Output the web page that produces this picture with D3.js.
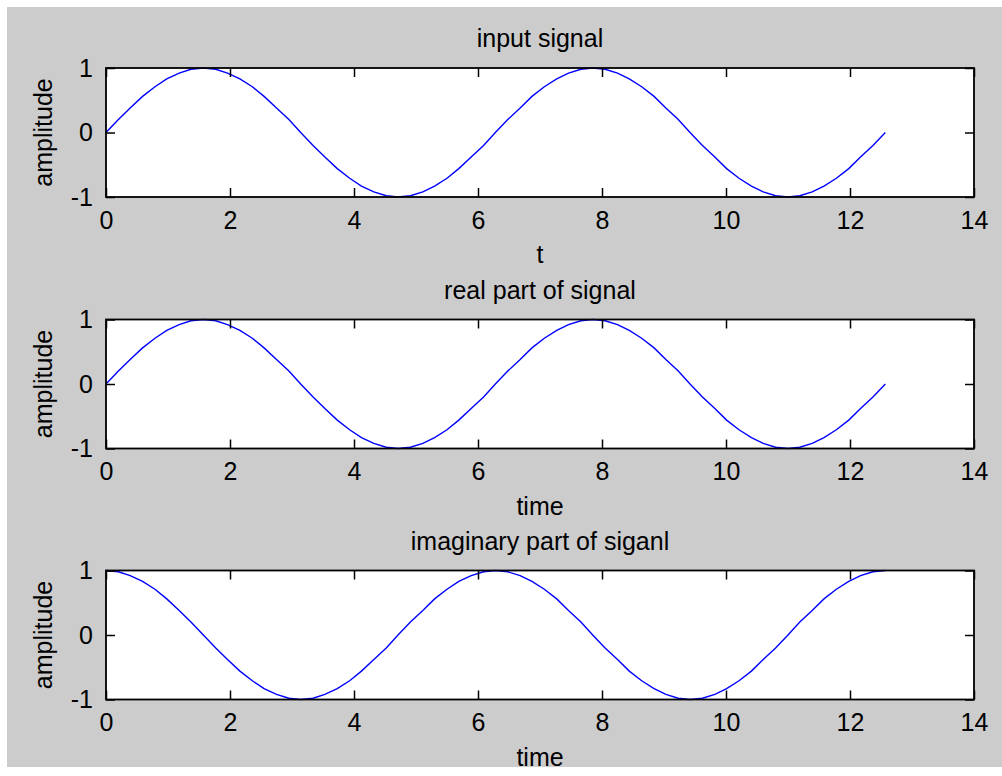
<!DOCTYPE html>
<html>
<head>
<meta charset="utf-8">
<script src="https://cdn.jsdelivr.net/npm/d3@7"></script>
<style>
  html, body { margin: 0; padding: 0; background: #fff; }
  svg { display: block; }
  text { font-family: "Liberation Sans", Arial, sans-serif; fill: #000; }
</style>
</head>
<body>
<svg id="fig" width="1002" height="776"></svg>
<script>
// sample times (0 .. 4*pi)
var tValues = [0, 0.2, 0.39, 0.59, 0.79, 0.98, 1.18, 1.37, 1.57, 1.77, 1.96, 2.16, 2.36, 2.55, 2.75, 2.95,
  3.14, 3.34, 3.53, 3.73, 3.93, 4.12, 4.32, 4.52, 4.71, 4.91, 5.11, 5.30, 5.50, 5.69, 5.89, 6.09,
  6.28, 6.48, 6.68, 6.87, 7.07, 7.27, 7.46, 7.66, 7.85, 8.05, 8.25, 8.44, 8.64, 8.84, 9.03, 9.23,
  9.42, 9.62, 9.82, 10.01, 10.21, 10.41, 10.60, 10.80, 11.00, 11.19, 11.39, 11.58, 11.78, 11.98, 12.17, 12.37,
  12.57];

var inputSignal = [0, 0.20, 0.38, 0.56, 0.71, 0.83, 0.92, 0.98, 1, 0.98, 0.92, 0.83, 0.71, 0.56, 0.38, 0.20,
  0, -0.20, -0.38, -0.56, -0.71, -0.83, -0.92, -0.98, -1, -0.98, -0.92, -0.83, -0.71, -0.56, -0.38, -0.20,
  0, 0.20, 0.38, 0.56, 0.71, 0.83, 0.92, 0.98, 1, 0.98, 0.92, 0.83, 0.71, 0.56, 0.38, 0.20,
  0, -0.20, -0.38, -0.56, -0.71, -0.83, -0.92, -0.98, -1, -0.98, -0.92, -0.83, -0.71, -0.56, -0.38, -0.20,
  0];

var realPart = [0, 0.20, 0.38, 0.56, 0.71, 0.83, 0.92, 0.98, 1, 0.98, 0.92, 0.83, 0.71, 0.56, 0.38, 0.20,
  0, -0.20, -0.38, -0.56, -0.71, -0.83, -0.92, -0.98, -1, -0.98, -0.92, -0.83, -0.71, -0.56, -0.38, -0.20,
  0, 0.20, 0.38, 0.56, 0.71, 0.83, 0.92, 0.98, 1, 0.98, 0.92, 0.83, 0.71, 0.56, 0.38, 0.20,
  0, -0.20, -0.38, -0.56, -0.71, -0.83, -0.92, -0.98, -1, -0.98, -0.92, -0.83, -0.71, -0.56, -0.38, -0.20,
  0];

var imagPart = [1, 0.98, 0.92, 0.83, 0.71, 0.56, 0.38, 0.20, 0, -0.20, -0.38, -0.56, -0.71, -0.83, -0.92, -0.98,
  -1, -0.98, -0.92, -0.83, -0.71, -0.56, -0.38, -0.20, 0, 0.20, 0.38, 0.56, 0.71, 0.83, 0.92, 0.98,
  1, 0.98, 0.92, 0.83, 0.71, 0.56, 0.38, 0.20, 0, -0.20, -0.38, -0.56, -0.71, -0.83, -0.92, -0.98,
  -1, -0.98, -0.92, -0.83, -0.71, -0.56, -0.38, -0.20, 0, 0.20, 0.38, 0.56, 0.71, 0.83, 0.92, 0.98,
  1];

var xTicks = [0, 2, 4, 6, 8, 10, 12, 14];
var yTicks = [-1, 0, 1];

var titles = ['input signal', 'real part of signal', 'imaginary part of siganl'];
var xLabels = ['t', 'time', 'time'];
var yLabel = 'amplitude';

var series = [inputSignal, realPart, imagPart];
var panelTops = [68, 319.5, 570.5];

var svg = d3.select('#fig');
var font = 25;
var tickLen = 9;

// plain hyphen minus, like the original figure
var fmt = function(d) { return String(d); };

// figure background
svg.append('rect')
  .attr('x', 7).attr('y', 7)
  .attr('width', 995).attr('height', 760)
  .attr('fill', '#cccccc');

var left = 106, right = 974, panelH = 129;

var x = d3.scaleLinear().domain([0, 14]).range([left, right]);

series.forEach(function(values, i) {
  var top = panelTops[i];
  var y = d3.scaleLinear().domain([-1, 1]).range([top + panelH, top]);
  var g = svg.append('g').attr('class', 'panel');

  g.append('rect')
    .attr('x', left).attr('y', top)
    .attr('width', right - left).attr('height', panelH)
    .attr('fill', '#fff');

  var line = d3.line()
    .x(function(d, j) { return x(tValues[j]); })
    .y(function(d) { return y(d); });

  g.append('path')
    .datum(values)
    .attr('d', line)
    .attr('fill', 'none')
    .attr('stroke', '#0000ff')
    .attr('stroke-width', 1.4);

  function styleAxis(sel) {
    sel.select('.domain').remove();
    sel.selectAll('.tick line').attr('stroke', '#000').attr('stroke-width', 1.5);
    sel.selectAll('text').attr('font-size', font).attr('font-family', '"Liberation Sans", Arial, sans-serif').attr('fill', '#000');
  }

  g.append('g')
    .attr('transform', 'translate(0,' + (top + panelH) + ')')
    .call(d3.axisBottom(x).tickValues(xTicks).tickSize(-tickLen).tickPadding(14).tickFormat(fmt))
    .call(styleAxis);

  g.append('g')
    .attr('transform', 'translate(0,' + top + ')')
    .call(d3.axisTop(x).tickValues(xTicks).tickSize(-tickLen).tickFormat(''))
    .call(styleAxis);

  g.append('g')
    .attr('transform', 'translate(' + left + ',0)')
    .call(d3.axisLeft(y).tickValues(yTicks).tickSize(-tickLen).tickPadding(13).tickFormat(fmt))
    .call(styleAxis);

  g.append('g')
    .attr('transform', 'translate(' + right + ',0)')
    .call(d3.axisRight(y).tickValues(yTicks).tickSize(-tickLen).tickFormat(''))
    .call(styleAxis);

  // box
  g.append('rect')
    .attr('x', left).attr('y', top)
    .attr('width', right - left).attr('height', panelH)
    .attr('fill', 'none')
    .attr('stroke', '#000')
    .attr('stroke-width', 1.8);

  var cx = (left + right) / 2;

  g.append('text')
    .attr('x', cx).attr('y', top - 21)
    .attr('text-anchor', 'middle')
    .attr('font-size', font)
    .text(titles[i]);

  g.append('text')
    .attr('x', cx).attr('y', top + panelH + 66)
    .attr('text-anchor', 'middle')
    .attr('font-size', font)
    .text(xLabels[i]);

  g.append('text')
    .attr('transform', 'translate(52,' + (top + panelH / 2) + ') rotate(-90)')
    .attr('text-anchor', 'middle')
    .attr('font-size', font)
    .text(yLabel);
});
</script>
</body>
</html>
